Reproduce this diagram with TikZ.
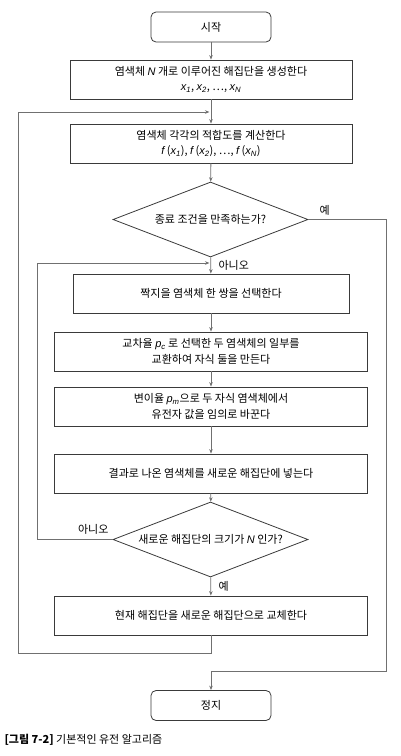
\documentclass[tikz,border=0pt]{standalone}
\usepackage{fontspec}
\setmainfont{Noto Sans CJK KR}
\newfontfamily\latinIt{Liberation Sans}[UprightFont=* Italic]
\usepackage{xcolor}
\usetikzlibrary{shapes.geometric, arrows.meta}
\definecolor{frameColor}{HTML}{3A3A3A}
\definecolor{lineColor}{HTML}{707070}
\newcommand{\vname}[1]{{\latinIt #1}}
\newcommand{\xsub}[1]{\vname{x}\textsubscript{\vname{#1}}}

\begin{document}
\begin{tikzpicture}[x=1pt, y=-1pt, font=\fontsize{11}{15.5}\selectfont,
    >={Stealth[length=4.5pt, width=3.5pt]},
    term/.style={draw=frameColor, thick, rounded corners=5pt, minimum width=120pt, minimum height=30pt},
    proc/.style={draw=frameColor, thick, align=center, minimum height=39pt, inner sep=2pt},
    decide/.style={draw=frameColor, thick, diamond, aspect=2.6, minimum width=195pt, minimum height=75pt, inner sep=0pt},
    flow/.style={draw=lineColor, thick}]
    \useasboundingbox (0,0) rectangle (400,756);

    \node[term] (start) at (211,27) {시작};
    \node[proc, minimum width=282pt] (init) at (211,79.5)
        {염색체 \vname{N} 개로 이루어진 해집단을 생성한다\\ \xsub{1}, \xsub{2}, \dots, \xsub{N}};
    \node[proc, minimum width=282pt] (fitness) at (211,143.5)
        {염색체 각각의 적합도를 계산한다\\ \vname{f} (\xsub{1}), \vname{f} (\xsub{2}), \dots, \vname{f} (\xsub{N})};
    \node[decide] (done) at (210.5,219.5) {종료 조건을 만족하는가?};
    \node[proc, minimum width=276pt] (select) at (211,293.5) {짝지을 염색체 한 쌍을 선택한다};
    \node[proc, minimum width=313pt] (cross) at (211,351.5)
        {교차율 \vname{p}\textsubscript{\vname{c}} 로 선택한 두 염색체의 일부를\\ 교환하여 자식 둘을 만든다};
    \node[proc, minimum width=313pt] (mutate) at (211,406.5)
        {변이율 \vname{p}\textsubscript{\vname{m}}으로 두 자식 염색체에서\\ 유전자 값을 임의로 바꾼다};
    \node[proc, minimum width=313pt] (insert) at (211,473.5) {결과로 나온 염색체를 새로운 해집단에 넣는다};
    \node[decide] (full) at (210.5,539.5) {새로운 해집단의 크기가 \vname{N} 인가?};
    \node[proc, minimum width=313pt] (replace) at (211,615.5) {현재 해집단을 새로운 해집단으로 교체한다};
    \node[term] (stop) at (211,705.5) {정지};

    % joins and corners of the loops
    \coordinate (outerJoin) at (210.5,112);
    \coordinate (outerCorner) at (18,653);
    \coordinate (innerJoin) at (210.5,263);
    \coordinate (innerCorner) at (37,539.5);
    \coordinate (exitCorner) at (386,671);

    \draw[flow, ->] (start) -- (init);
    \draw[flow, ->] (init) -- (fitness);
    \draw[flow, ->] (fitness) -- (done);
    \draw[flow, ->] (done) -- (select);
    \draw[flow, ->] (select) -- (cross);
    \draw[flow, ->] (cross) -- (mutate);
    \draw[flow, ->] (mutate) -- (insert);
    \draw[flow, ->] (insert) -- (full);
    \draw[flow, ->] (full) -- (replace);

    \draw[flow, ->] (replace.south) |- (outerCorner) |- ([xshift=-1pt]outerJoin);
    \draw[flow, ->] (full.west) -- (innerCorner) |- ([xshift=-1pt]innerJoin);
    \draw[flow, ->] (done.east) -| (exitCorner) -| (stop.north);

    \node[anchor=west] (yesTop) at (316,210) {예};
    \node[anchor=west] (noTop) at (215,265) {아니오};
    \node[anchor=east] (noLoop) at (112,529) {아니오};
    \node[anchor=west] (yesBottom) at (215,586) {예};

    \node[anchor=west, font=\fontsize{11}{13}\selectfont] (caption) at (1,740)
        {{\bfseries [그림 7-2]} 기본적인 유전 알고리즘};
\end{tikzpicture}
\end{document}
